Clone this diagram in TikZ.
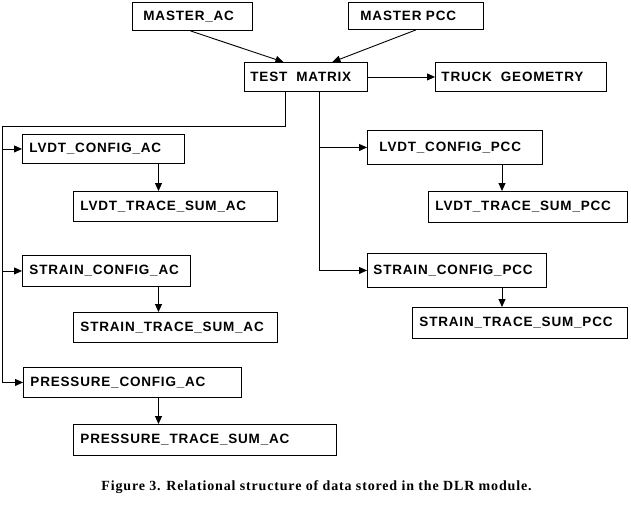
\documentclass[tikz,border=0pt]{standalone}
\usepackage{fontspec}
\setmainfont{Liberation Serif}
\newfontfamily\boxfont[LetterSpace=6]{Liberation Sans}
\newfontfamily\capfont[LetterSpace=6]{Liberation Serif}
\usetikzlibrary{arrows.meta, positioning}

\begin{document}
\begin{tikzpicture}[
			x=1pt, y=-1pt,
			line width=0.9pt,
			every node/.style={font=\boxfont\bfseries\fontsize{13.5}{15}\selectfont},
			tbl/.style={draw, anchor=north west, inner xsep=7pt, inner ysep=0pt, minimum height=29pt, align=left},
			arrow/.style={-{Triangle[length=8pt, width=7pt]}}
			]
			\useasboundingbox (0,0) rectangle (631,512);
			
			% Nodes
			\node (master_ac) [tbl, text width=98pt, inner xsep=11pt, minimum height=28pt] at (132,2) {MASTER\_AC};
			\node (master_pcc) [tbl, text width=111pt, inner xsep=12pt, minimum height=27pt] at (348,2) {MASTER PCC};
			\node (test_matrix) [tbl, text width=111pt, inner xsep=6pt] at (244,62) {TEST\ \ MATRIX};
			\node (truck_geom) [tbl, text width=159pt, inner xsep=6pt] at (435,62) {TRUCK\ \ GEOMETRY};
			
			\node (lvdt_cfg_ac) [tbl, text width=148pt] at (22,134) {LVDT\_CONFIG\_AC};
			\node (lvdt_sum_ac) [tbl, text width=190pt, minimum height=30pt] at (73,191) {LVDT\_TRACE\_SUM\_AC};
			\node (strain_cfg_ac) [tbl, text width=154pt, minimum height=31pt] at (22,255) {STRAIN\_CONFIG\_AC};
			\node (strain_sum_ac) [tbl, text width=190pt, minimum height=30pt] at (73,312) {STRAIN\_TRACE\_SUM\_AC};
			\node (press_cfg_ac) [tbl, text width=204pt, minimum height=30pt] at (23,367) {PRESSURE\_CONFIG\_AC};
			\node (press_sum_ac) [tbl, text width=249pt, minimum height=31pt] at (73,424) {PRESSURE\_TRACE\_SUM\_AC};
			
			\node (lvdt_cfg_pcc) [tbl, text width=151pt, inner xsep=12pt, minimum height=34pt] at (367,130) {LVDT\_CONFIG\_PCC};
			\node (lvdt_sum_pcc) [tbl, text width=185pt, minimum height=31pt] at (428,191) {LVDT\_TRACE\_SUM\_PCC};
			\node (strain_cfg_pcc) [tbl, text width=167pt, inner xsep=6pt, minimum height=34pt] at (367,253) {STRAIN\_CONFIG\_PCC};
			\node (strain_sum_pcc) [tbl, text width=201pt, minimum height=31pt] at (412,307) {STRAIN\_TRACE\_SUM\_PCC};
			
			\node (caption) [font=\capfont\bfseries\fontsize{14}{16}\selectfont] at (316.5,487) {Figure 3. Relational structure of data stored in the DLR module.};
			
			% Buses
			\coordinate (bus_ac) at (2,126);
			\coordinate (bus_pcc) at ([xshift=13.5pt]test_matrix.south);
			\coordinate (drop_ac) at (158.5,0);
			\coordinate (drop_pcc) at (502,0);
			
			% Connections
			\draw [arrow] ([xshift=-2pt]master_ac.south) -- ([xshift=-22.5pt]test_matrix.north);
			\draw [arrow] (master_pcc.south) -- ([xshift=26.5pt]test_matrix.north);
			\draw [arrow] (test_matrix) -- (truck_geom);
			
			\draw ([xshift=-20.5pt]test_matrix.south) |- (bus_ac) -- (bus_ac |- press_cfg_ac.west);
			\draw (bus_pcc) -- (bus_pcc |- strain_cfg_pcc.west);
			
			\foreach \n in {lvdt_cfg_ac, strain_cfg_ac, press_cfg_ac}
				\draw [arrow] (bus_ac |- \n.west) -- (\n.west);
			\foreach \n in {lvdt_cfg_pcc, strain_cfg_pcc}
				\draw [arrow] (bus_pcc |- \n.west) -- (\n.west);
			
			\foreach \a/\b in {lvdt_cfg_ac/lvdt_sum_ac, strain_cfg_ac/strain_sum_ac, press_cfg_ac/press_sum_ac}
				\draw [arrow] (\a.south -| drop_ac) -- (\b.north -| drop_ac);
			\foreach \a/\b in {lvdt_cfg_pcc/lvdt_sum_pcc, strain_cfg_pcc/strain_sum_pcc}
				\draw [arrow] (\a.south -| drop_pcc) -- (\b.north -| drop_pcc);
			
		\end{tikzpicture}
\end{document}
